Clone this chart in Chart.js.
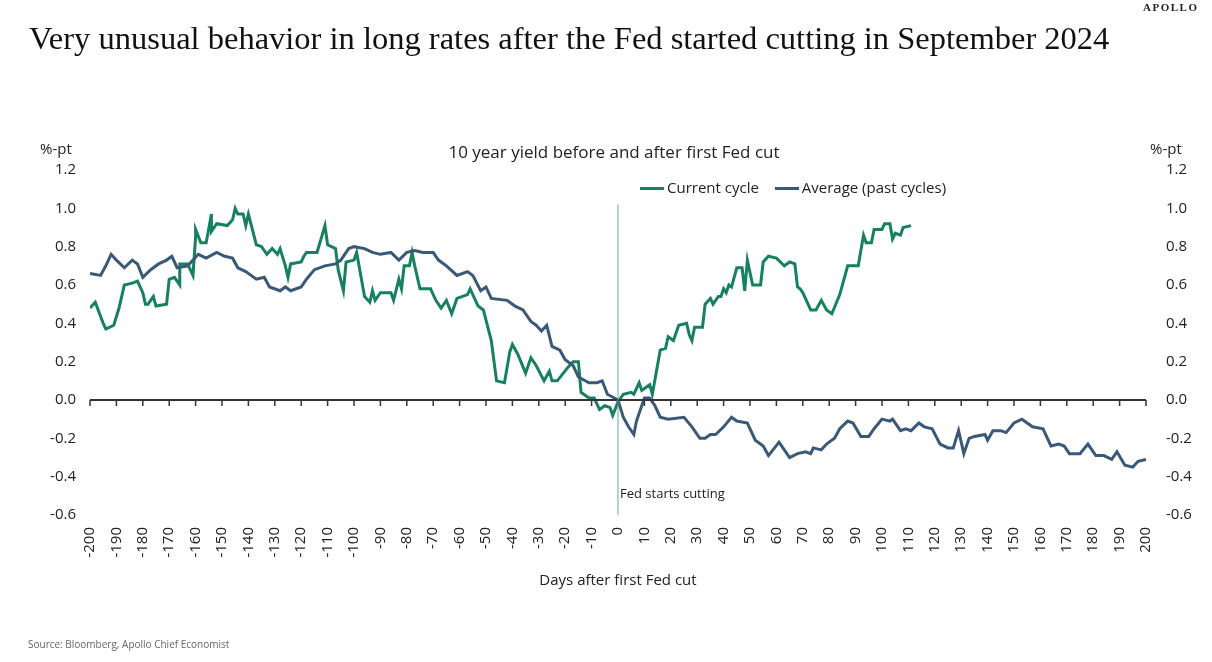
<!DOCTYPE html>
<html><head><meta charset="utf-8">
<script src="https://cdn.jsdelivr.net/npm/chart.js@4"></script>
<style>
body{margin:0;background:#fff;width:1212px;height:662px;overflow:hidden;position:relative;font-family:"Open Sans",sans-serif;color:#222}
#wrap{position:absolute;left:0;top:0;width:1212px;height:662px}
.t{position:absolute;white-space:nowrap}
</style></head><body>
<div id="wrap"><canvas id="c"></canvas></div>
<div class="t" style="left:29px;top:20px;font-family:'Liberation Serif',serif;font-size:32.5px;color:#111">Very unusual behavior in long rates after the Fed started cutting in September 2024</div>
<div class="t" style="left:1143px;top:1px;font-family:'Liberation Serif',serif;font-size:11px;font-weight:bold;letter-spacing:1.5px">APOLLO</div>
<div class="t" style="left:0;width:1228px;text-align:center;top:140px;font-size:17px">10 year yield before and after first Fed cut</div>
<div class="t" style="left:40px;top:138px;font-size:15px">%-pt</div>
<div class="t" style="left:1150px;top:138px;font-size:15px">%-pt</div>
<div class="t" style="left:640px;top:177px;font-size:15px"><span style="display:inline-block;width:24px;height:3px;background:#17805f;vertical-align:middle;margin-right:3px"></span>Current cycle <span style="display:inline-block;width:24px;height:3px;background:#3a5878;vertical-align:middle;margin:0 3px 0 12px"></span>Average (past cycles)</div>
<div class="t" style="left:28px;top:637px;font-size:10px;color:#666">Source: Bloomberg, Apollo Chief Economist</div>
<script>
const currentDays=[-200,-198,-195,-194,-191,-189,-187,-184,-182,-180,-179,-178,-176,-175,-171,-170,-168,-166,-166,-163,-161,-160,-160,-158,-156,-154,-154,-152,-148,-146,-145,-144,-142,-141,-140,-137,-135,-133,-131,-129,-128,-126,-125,-124,-120,-119,-118,-114,-111,-110,-107,-106,-104,-103,-100,-99,-96,-94,-93,-92,-90,-86,-85,-83,-82,-81,-79,-78,-77,-75,-71,-69,-67,-65,-63,-61,-57,-56,-53,-51,-48,-46,-43,-41,-40,-38,-35,-33,-31,-28,-26,-25,-23,-19,-17,-15,-14,-11,-9,-7,-5,-3,-2,0,2,5,6,8,9,12,13,16,18,19,21,23,26,27,28,29,32,33,35,36,38,39,40,41,42,43,45,47,48,49,51,54,55,57,60,63,65,67,68,69,70,73,75,77,79,81,84,87,91,93,94,96,97,100,101,103,104,105,107,108,111];
const currentVals=[0.48,0.51,0.40,0.37,0.39,0.48,0.60,0.61,0.62,0.56,0.50,0.50,0.54,0.49,0.50,0.63,0.64,0.60,0.71,0.71,0.65,0.85,0.89,0.82,0.82,0.97,0.88,0.92,0.91,0.94,1.00,0.97,0.97,0.91,0.97,0.81,0.80,0.76,0.79,0.76,0.79,0.70,0.64,0.71,0.72,0.75,0.77,0.77,0.91,0.81,0.79,0.68,0.57,0.72,0.73,0.77,0.54,0.51,0.57,0.52,0.56,0.56,0.52,0.63,0.58,0.70,0.70,0.77,0.70,0.58,0.58,0.52,0.48,0.52,0.45,0.53,0.55,0.58,0.49,0.47,0.31,0.10,0.09,0.25,0.29,0.24,0.14,0.22,0.18,0.10,0.15,0.10,0.10,0.17,0.20,0.20,0.04,0.01,0.01,-0.05,-0.03,-0.04,-0.08,-0.01,0.03,0.04,0.03,0.09,0.05,0.08,0.03,0.26,0.27,0.33,0.31,0.39,0.40,0.34,0.31,0.38,0.38,0.50,0.53,0.50,0.54,0.54,0.58,0.56,0.60,0.59,0.69,0.69,0.57,0.73,0.60,0.60,0.72,0.75,0.74,0.70,0.72,0.71,0.59,0.58,0.56,0.47,0.47,0.52,0.47,0.45,0.55,0.70,0.70,0.86,0.82,0.82,0.89,0.89,0.92,0.92,0.84,0.87,0.86,0.90,0.91];
const averageDays=[-200,-196,-194,-192,-190,-187,-184,-182,-180,-177,-174,-171,-169,-167,-163,-159,-156,-152,-149,-146,-144,-141,-137,-134,-132,-128,-126,-124,-120,-118,-115,-111,-107,-105,-102,-100,-96,-93,-90,-86,-83,-80,-77,-74,-70,-68,-65,-61,-57,-55,-52,-50,-48,-42,-39,-36,-33,-31,-29,-27,-25,-22,-20,-17,-15,-11,-8,-6,-4,0,2,4,6,7,10,12,14,16,19,25,28,31,33,35,37,40,43,45,49,52,55,57,61,63,65,68,71,73,74,77,79,82,84,87,89,92,95,97,100,103,104,107,109,111,114,116,119,122,125,127,129,131,133,135,139,140,142,145,147,150,153,157,161,164,167,169,171,175,178,181,184,187,189,192,195,197,200];
const averageVals=[0.66,0.65,0.70,0.76,0.73,0.69,0.73,0.71,0.64,0.68,0.71,0.73,0.75,0.69,0.70,0.76,0.74,0.77,0.75,0.74,0.69,0.67,0.63,0.64,0.59,0.57,0.59,0.57,0.59,0.63,0.68,0.70,0.71,0.73,0.79,0.80,0.79,0.77,0.76,0.77,0.73,0.77,0.78,0.77,0.77,0.73,0.70,0.65,0.67,0.65,0.57,0.59,0.53,0.52,0.49,0.47,0.41,0.39,0.36,0.39,0.28,0.26,0.21,0.18,0.12,0.09,0.09,0.10,0.03,0.00,-0.09,-0.14,-0.18,-0.11,0.01,0.01,-0.03,-0.09,-0.10,-0.09,-0.14,-0.20,-0.20,-0.18,-0.18,-0.14,-0.09,-0.11,-0.12,-0.21,-0.24,-0.29,-0.22,-0.26,-0.30,-0.28,-0.27,-0.28,-0.25,-0.26,-0.23,-0.20,-0.15,-0.11,-0.12,-0.19,-0.19,-0.15,-0.10,-0.11,-0.10,-0.16,-0.15,-0.16,-0.12,-0.14,-0.15,-0.23,-0.25,-0.25,-0.16,-0.28,-0.20,-0.19,-0.18,-0.21,-0.16,-0.16,-0.17,-0.12,-0.10,-0.14,-0.15,-0.24,-0.23,-0.24,-0.28,-0.28,-0.23,-0.29,-0.29,-0.31,-0.27,-0.34,-0.35,-0.32,-0.31];
const xTicks=[];for(let d=-200;d<=200;d+=10)xTicks.push(d);
const yMin=-0.6,yMax=1.2,yStep=0.2;

const overlay={id:'overlay',afterDatasetsDraw(ch){
  const {ctx,scales:{x,y}}=ch;const y0=y.getPixelForValue(0);
  ctx.save();ctx.strokeStyle='#333';ctx.lineWidth=2;
  ctx.beginPath();ctx.moveTo(x.getPixelForValue(-200),y0);ctx.lineTo(x.getPixelForValue(200),y0);ctx.stroke();
  ctx.lineWidth=1.5;
  xTicks.forEach(d=>{const px=x.getPixelForValue(d);ctx.beginPath();ctx.moveTo(px,y0);ctx.lineTo(px,y0+6);ctx.stroke();});
  const xv=x.getPixelForValue(0);ctx.strokeStyle='#5fb3a0';ctx.lineWidth=1;
  ctx.beginPath();ctx.moveTo(xv,y.getPixelForValue(1.02));ctx.lineTo(xv,y.getPixelForValue(yMin));ctx.stroke();
  ctx.fillStyle='#222';ctx.font='13px "Open Sans"';ctx.textBaseline='middle';ctx.fillText('Fed starts cutting',xv+2,y.getPixelForValue(-0.49));
  ctx.restore();
}};
const axisFont={family:'"Open Sans"',size:15};
new Chart(document.getElementById('c'),{
  type:'line',
  data:{datasets:[
    {label:'Average (past cycles)',data:averageDays.map((d,i)=>({x:d,y:averageVals[i]})),borderColor:'#3a5878',borderWidth:3,pointRadius:0,tension:0},
    {label:'Current cycle',data:currentDays.map((d,i)=>({x:d,y:currentVals[i]})),borderColor:'#17805f',borderWidth:3,pointRadius:0,tension:0}
  ]},
  options:{responsive:true,maintainAspectRatio:false,animation:false,
    layout:{padding:{left:30,right:16,top:170,bottom:68}},
    plugins:{legend:{display:false},tooltip:{enabled:false}},
    scales:{
      x:{type:'linear',min:-200,max:200,grid:{display:false},border:{display:false},
        afterBuildTicks(s){s.ticks=xTicks.map(v=>({value:v}));},
        afterFit(s){s.height=79;},
        ticks:{font:axisFont,color:'#222',maxRotation:90,minRotation:90,autoSkip:false,padding:4},
        title:{display:true,text:'Days after first Fed cut',font:axisFont,color:'#222',padding:{top:0}}},
      y:{position:'left',min:yMin,max:yMax,grid:{display:false},border:{display:false},
        afterFit(s){s.width=60;},
        ticks:{stepSize:yStep,font:axisFont,color:'#222',callback:v=>v.toFixed(1),padding:6}},
      y2:{position:'right',min:yMin,max:yMax,grid:{display:false},border:{display:false},
        afterFit(s){s.width=50;},
        ticks:{stepSize:yStep,font:axisFont,color:'#222',callback:v=>v.toFixed(1),padding:12}}
    }},
  plugins:[overlay]
});
</script>
</body></html>
